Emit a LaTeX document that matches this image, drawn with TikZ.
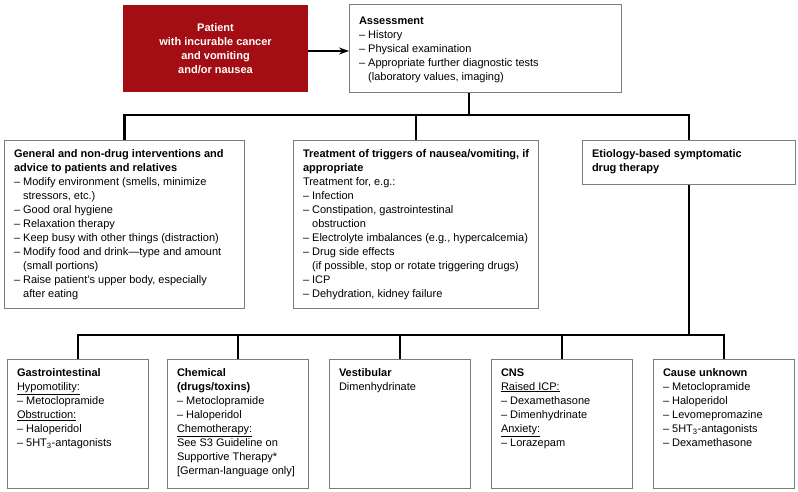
\documentclass[tikz,border=0pt]{standalone}
\usepackage{fontspec}
\setmainfont{Liberation Sans}
\usetikzlibrary{arrows.meta}
\definecolor{cancerred}{RGB}{163,13,20}
\definecolor{framegray}{RGB}{125,125,125}
\newcommand{\boxtext}[3]{\parbox[c][#2][t]{#1}{\raggedright#3}}
\newcommand{\ind}{\hphantom{-- }}
\begin{document}
\begin{tikzpicture}[x=1pt,y=-1pt,
    every node/.style={font=\fontsize{11}{14}\selectfont},
    infobox/.style={draw=framegray,line width=1pt,anchor=north west,inner xsep=9.5pt,inner ysep=9pt},
    patientbox/.style={fill=cancerred,text=white,font=\fontsize{11}{14}\selectfont\bfseries,align=center,
        minimum width=185pt,minimum height=87pt,inner sep=0pt},
    link/.style={line width=2.2pt,black}]
    \useasboundingbox (0,0) rectangle (798,492);
    %% top row
    \node[patientbox] (patient) at (215.5,48.5) {Patient\\with incurable cancer\\and vomiting\\and/or nausea};
    \node[infobox,inner ysep=12pt] (assess) at (349,4) {\boxtext{253pt}{64pt}{\textbf{Assessment}\\
        -- History\\
        -- Physical examination\\
        -- Appropriate further diagnostic tests\\
        \ind(laboratory values, imaging)}};
    %% middle row
    \node[infobox] (general) at (4,140) {\boxtext{221pt}{150pt}{\textbf{General and non-drug interventions and\\
        advice to patients and relatives}\\
        -- Modify environment (smells, minimize\\
        \ind stressors, etc.)\\
        -- Good oral hygiene\\
        -- Relaxation therapy\\
        -- Keep busy with other things (distraction)\\
        -- Modify food and drink---type and amount\\
        \ind(small portions)\\
        -- Raise patient’s upper body, especially\\
        \ind after eating}};
    \node[infobox] (triggers) at (293,140) {\boxtext{226pt}{150pt}{\textbf{Treatment of triggers of nausea/vomiting, if\\
        appropriate}\\
        Treatment for, e.g.:\\
        -- Infection\\
        -- Constipation, gastrointestinal\\
        \ind obstruction\\
        -- Electrolyte imbalances (e.g., hypercalcemia)\\
        -- Drug side effects\\
        \ind(if possible, stop or rotate triggering drugs)\\
        -- ICP\\
        -- Dehydration, kidney failure}};
    \node[infobox] (etiology) at (582,140) {\boxtext{194pt}{26pt}{\textbf{Etiology-based symptomatic\\
        drug therapy}}};
    %% bottom row
    \node[infobox] (gastro) at (7,359) {\boxtext{122pt}{111pt}{\textbf{Gastrointestinal}\\
        \underline{Hypomotility:}\\
        -- Metoclopramide\\
        \underline{Obstruction:}\\
        -- Haloperidol\\
        -- 5HT\textsubscript{3}-antagonists}};
    \node[infobox] (chemical) at (167,359) {\boxtext{122pt}{111pt}{\textbf{Chemical\\
        (drugs/toxins)}\\
        -- Metoclopramide\\
        -- Haloperidol\\
        \underline{Chemotherapy:}\\
        See S3 Guideline on\\
        Supportive Therapy*\\
        {[}German-language only{]}}};
    \node[infobox] (vestib) at (329,359) {\boxtext{122pt}{111pt}{\textbf{Vestibular}\\
        Dimenhydrinate}};
    \node[infobox] (cns) at (491,359) {\boxtext{122pt}{111pt}{\textbf{CNS}\\
        \underline{Raised ICP:}\\
        -- Dexamethasone\\
        -- Dimenhydrinate\\
        \underline{Anxiety:}\\
        -- Lorazepam}};
    \node[infobox] (unknown) at (653,359) {\boxtext{122pt}{111pt}{\textbf{Cause unknown}\\
        -- Metoclopramide\\
        -- Haloperidol\\
        -- Levomepromazine\\
        -- 5HT\textsubscript{3}-antagonists\\
        -- Dexamethasone}};
    %% connectors
    \coordinate (arrowtail) at (308,51);
    \draw[link,line width=2pt,-{Stealth[length=10pt,width=7pt]}] (arrowtail) -- (arrowtail -| assess.west);
    \coordinate (split1) at (469,115);
    \draw[link] (assess.south -| split1) -- (split1);
    \draw[link] (general.north) |- (split1) -| (etiology.north);
    \draw[link] (triggers.north) -- (triggers.north |- split1);
    \coordinate (split2) at (688,335);
    \draw[link] (etiology.south) -- (etiology.south |- split2);
    \draw[link] (gastro.north) |- (split2) -| (unknown.north);
    \foreach \n in {chemical,vestib,cns}
        \draw[link] (\n.north) -- (\n.north |- split2);
\end{tikzpicture}
\end{document}
